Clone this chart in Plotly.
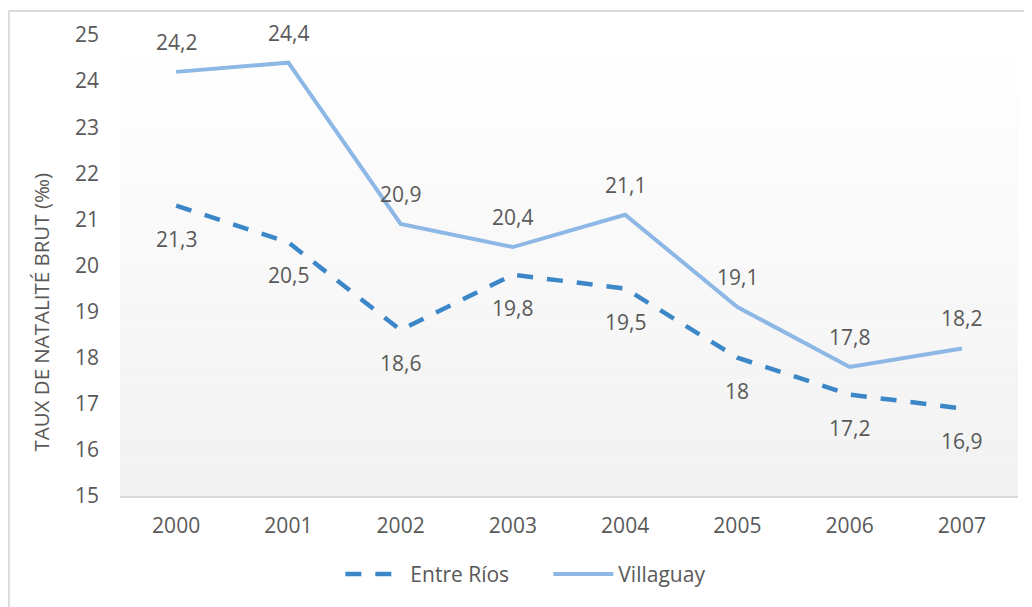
import plotly.graph_objects as go

years = ["2000", "2001", "2002", "2003", "2004", "2005", "2006", "2007"]
entre_rios = [21.3, 20.5, 18.6, 19.8, 19.5, 18.0, 17.2, 16.9]
villaguay = [24.2, 24.4, 20.9, 20.4, 21.1, 19.1, 17.8, 18.2]
y_ticks = [15, 16, 17, 18, 19, 20, 21, 22, 23, 24, 25]

FONT = "Open Sans"
TXT = "#595959"
C_ER = "#3b87c8"
C_VI = "#8db8e6"
FS = 21


def fmt(v):
    return ("%g" % v).replace(".", ",")


fig = go.Figure()
fig.add_trace(go.Scatter(
    x=years, y=entre_rios, name="Entre Ríos", mode="lines",
    line=dict(color=C_ER, width=4.5, dash="16px,14px"),
))
fig.add_trace(go.Scatter(
    x=years, y=villaguay, name="Villaguay", mode="lines",
    line=dict(color=C_VI, width=4),
))

annotations = []
for i, v in enumerate(villaguay):
    annotations.append(dict(x=i, y=v, xref="x", yref="y", text=fmt(v),
                            showarrow=False, yshift=30,
                            font=dict(family=FONT, size=FS, color=TXT)))
for i, v in enumerate(entre_rios):
    annotations.append(dict(x=i, y=v, xref="x", yref="y", text=fmt(v),
                            showarrow=False, yshift=-33,
                            font=dict(family=FONT, size=FS, color=TXT)))
annotations.append(dict(x=-0.089, y=0.398, xref="paper", yref="paper",
                        text="TAUX DE NATALITÉ BRUT (‰)", textangle=-90,
                        showarrow=False, xanchor="center", yanchor="middle",
                        font=dict(family=FONT, size=20.5, color=TXT)))

# gradient plot background (white at top to light grey at bottom)
shapes = []
n = 24
for i in range(n):
    t = i / (n - 1)
    g = int(round(255 - (255 - 242) * t))
    col = "rgb(%d,%d,%d)" % (g, g, g)
    shapes.append(dict(type="rect", xref="paper", yref="paper",
                       x0=0, x1=1, y0=1 - (i + 1) / n, y1=1 - i / n,
                       fillcolor=col, line=dict(width=0), layer="below"))
# outer frame (top and left edges visible)
shapes.append(dict(type="line", xref="paper", yref="paper",
                   x0=-0.1239, x1=1.03, y0=1.052, y1=1.052,
                   line=dict(color="#d9d9d9", width=2), layer="above"))
shapes.append(dict(type="line", xref="paper", yref="paper",
                   x0=-0.1239, x1=-0.1239, y0=-0.25, y1=1.052,
                   line=dict(color="#d9d9d9", width=2), layer="above"))

fig.update_layout(
    width=1024, height=599,
    margin=dict(l=112, r=14, t=25, b=110),
    paper_bgcolor="white", plot_bgcolor="white",
    font=dict(family=FONT, size=FS, color=TXT),
    showlegend=True,
    legend=dict(orientation="h", x=0.477, xanchor="center", y=-0.17, yanchor="middle",
                font=dict(family=FONT, size=FS, color=TXT),
                itemwidth=60, entrywidth=133, entrywidthmode="pixels",
                tracegroupgap=0, bgcolor="rgba(0,0,0,0)"),
    annotations=annotations,
    shapes=shapes,
    xaxis=dict(type="category", range=[-0.5, 7.5], showgrid=False, zeroline=False,
               showline=True, linecolor="#d9d9d9", linewidth=1.5,
               ticks="", ticklabelstandoff=10,
               tickfont=dict(family=FONT, size=FS, color=TXT)),
    yaxis=dict(range=[15, 25], tickvals=y_ticks, showgrid=False, zeroline=False,
               showline=False, ticks="", ticklabelstandoff=20,
               tickfont=dict(family=FONT, size=FS, color=TXT)),
)

fig.write_html("out.html")
